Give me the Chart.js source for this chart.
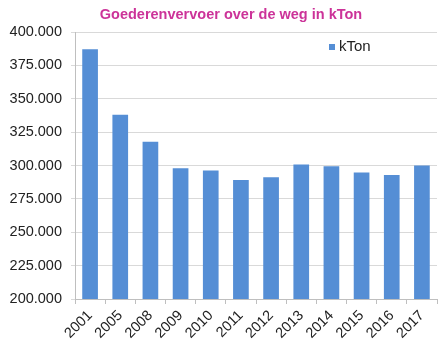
<!DOCTYPE html>
<html>
<head>
<meta charset="utf-8">
<script src="https://cdn.jsdelivr.net/npm/chart.js@4/dist/chart.umd.min.js"></script>
<style>
  html, body { margin: 0; padding: 0; background: #fff; }
  #wrap { width: 441px; height: 341px; }
</style>
</head>
<body>
<div id="wrap"><canvas id="chart" width="441" height="341"></canvas></div>
<script>
const years = ["2001", "2005", "2008", "2009", "2010", "2011", "2012", "2013", "2014", "2015", "2016", "2017"];
const kTon = [387000, 338000, 317700, 298000, 296200, 289200, 291200, 300700, 299500, 294800, 292800, 300000];
const seriesLabel = "kTon";
const chartTitle = "Goederenvervoer over de weg in kTon";
const yMin = 200000;
const yMax = 400000;
const yStep = 25000;

const barColor = "#558ed5";
const fontFamily = "'Liberation Sans', Arial, sans-serif";

const nf = new Intl.NumberFormat("nl-NL", { minimumFractionDigits: 0 });

// title and legend are drawn by hand so they sit where the layout wants them
const overlay = {
  id: "overlay",
  afterDraw(chart) {
    const ctx = chart.ctx;
    ctx.save();
    ctx.font = `bold 14.5px ${fontFamily}`;
    ctx.fillStyle = "#cc3399";
    ctx.textAlign = "center";
    ctx.textBaseline = "middle";
    ctx.fillText(chartTitle, 231, 15);

    ctx.fillStyle = barColor;
    ctx.fillRect(329, 44, 6, 6);
    ctx.font = `15px ${fontFamily}`;
    ctx.fillStyle = "#222";
    ctx.textAlign = "left";
    ctx.fillText(seriesLabel, 339, 47);
    ctx.restore();
  },
};

new Chart(document.querySelector("#chart"), {
  type: "bar",
  data: {
    labels: years,
    datasets: [
      {
        label: seriesLabel,
        data: kTon,
        backgroundColor: barColor,
        categoryPercentage: 1,
        barPercentage: 0.52,
      },
    ],
  },
  options: {
    responsive: false,
    animation: false,
    devicePixelRatio: 1,
    layout: { padding: { top: 32, right: 4, left: 0, bottom: 0 } },
    plugins: {
      legend: { display: false },
      title: { display: false },
      tooltip: { enabled: false },
    },
    scales: {
      x: {
        grid: {
          drawOnChartArea: false,
          color: "#bfbfbf",
          tickLength: 5,
          offset: true,
        },
        border: { color: "#bfbfbf" },
        ticks: {
          color: "#222",
          font: { family: fontFamily, size: 14.5 },
          minRotation: 45,
          maxRotation: 45,
          padding: 3,
        },
        afterFit: (scale) => {
          scale.height = 42;
        },
      },
      y: {
        min: yMin,
        max: yMax,
        grid: { color: "#d9d9d9", tickLength: 4 },
        border: { color: "#bfbfbf" },
        ticks: {
          stepSize: yStep,
          color: "#222",
          font: { family: fontFamily, size: 14.5 },
          padding: 9,
          callback: (v) => nf.format(v / 1000) + ".000",
        },
        afterFit: (scale) => {
          scale.width = 75;
        },
      },
    },
  },
  plugins: [overlay],
});
</script>
</body>
</html>
